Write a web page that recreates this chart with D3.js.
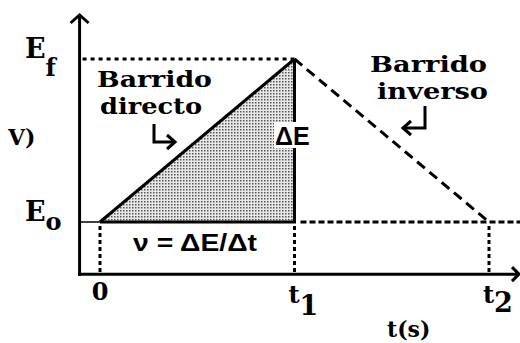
<!DOCTYPE html>
<html>
<head>
<meta charset="utf-8">
<script src="https://cdn.jsdelivr.net/npm/d3@7"></script>
<style>
  body { margin: 0; background: #fff; }
  text { fill: #000; }
  .serif { font-family: "DejaVu Serif", serif; font-weight: bold; }
  .sans { font-family: "Liberation Sans", Arial, sans-serif; font-weight: bold; }
</style>
</head>
<body>
<div id="viz"></div>
<script>
// set up width and height
const width = 520;
const height = 343;

// sweep data: time marks and potential levels
const sweepTimes = [0, 1, 2];
const timeLabels = ["0", "t", "t"];
const timeSubs = ["", "1", "2"];
const levels = [0, 1];
const levelSubs = ["o", "f"];
const forwardSweep = [[0, 0], [1, 1]];
const reverseSweep = [[1, 1], [2, 0]];

const x = d3.scaleLinear().domain([0, 2]).range([100, 489]);
const y = d3.scaleLinear().domain([0, 1]).range([222, 59]);

const xAxisVal = -0.105; // where the vertical axis sits
const yAxisVal = -0.32;  // where the time axis sits

const svg = d3.select("#viz").append("svg")
    .attr("width", width)
    .attr("height", height);

// stipple pattern for the shaded triangle
const defs = svg.append("defs");
const pat = defs.append("pattern")
    .attr("id", "dots")
    .attr("patternUnits", "userSpaceOnUse")
    .attr("width", 3)
    .attr("height", 3);
pat.append("rect").attr("width", 3).attr("height", 3).attr("fill", "#e8e8e8");
pat.append("rect").attr("width", 1.5).attr("height", 1.5).attr("fill", "#555");

const line = d3.line().x(d => x(d[0])).y(d => y(d[1]));

// shaded area under forward sweep
svg.append("path")
    .attr("d", line([[0, 0], [1, 1], [1, 0]]) + "Z")
    .attr("fill", "url(#dots)");

// dotted guide lines
const dotted = svg.append("g").attr("stroke", "#000").attr("stroke-width", 3).attr("fill", "none");
dotted.append("line")
    .attr("x1", x(xAxisVal) + 3).attr("x2", x(1))
    .attr("y1", y(1)).attr("y2", y(1))
    .attr("stroke-dasharray", "4,4");
dotted.append("line")
    .attr("x1", x(1) + 6).attr("x2", width)
    .attr("y1", y(0)).attr("y2", y(0))
    .attr("stroke-dasharray", "6,3");
sweepTimes.forEach(t => {
  dotted.append("line")
    .attr("x1", x(t)).attr("x2", x(t))
    .attr("y1", y(0) + 4).attr("y2", y(yAxisVal) - 2)
    .attr("stroke-dasharray", "4,3");
});

// thin E0 line from axis to start
svg.append("line")
    .attr("x1", x(xAxisVal)).attr("x2", x(0))
    .attr("y1", y(0)).attr("y2", y(0))
    .attr("stroke", "#000").attr("stroke-width", 1.5);

// forward sweep (solid) and triangle edges
svg.append("path")
    .attr("d", line(forwardSweep))
    .attr("stroke", "#000").attr("stroke-width", 3).attr("fill", "none");
svg.append("path")
    .attr("d", line([[0, 0], [1, 0], [1, 1]]))
    .attr("stroke", "#000").attr("stroke-width", 3).attr("fill", "none");

// reverse sweep (dashed)
svg.append("path")
    .attr("d", line(reverseSweep))
    .attr("stroke", "#000").attr("stroke-width", 3).attr("fill", "none")
    .attr("stroke-dasharray", "10,6");

// axes
const axes = svg.append("g").attr("stroke", "#000").attr("stroke-width", 3).attr("fill", "none");
axes.append("line")
    .attr("x1", x(xAxisVal)).attr("x2", x(xAxisVal))
    .attr("y1", 16).attr("y2", y(yAxisVal) + 1.5);
axes.append("path")
    .attr("d", `M${x(xAxisVal) - 9},23 L${x(xAxisVal)},15 L${x(xAxisVal) + 9},23`);
axes.append("line")
    .attr("x1", x(xAxisVal) - 1.5).attr("x2", width - 2)
    .attr("y1", y(yAxisVal)).attr("y2", y(yAxisVal));
axes.append("path")
    .attr("d", `M${width - 8},${y(yAxisVal) - 7} L${width - 1},${y(yAxisVal)} L${width - 8},${y(yAxisVal) + 7}`);

// ΔE label with white backing
svg.append("rect")
    .attr("x", 274).attr("y", 122).attr("width", 42).attr("height", 26)
    .attr("fill", "#fff");
svg.append("text").attr("class", "sans")
    .attr("x", 275).attr("y", 145)
    .style("font-size", "25px")
    .text("ΔE");

// rate formula
svg.append("text").attr("class", "sans")
    .attr("x", 133).attr("y", 251)
    .style("font-size", "24px")
    .attr("textLength", 124).attr("lengthAdjust", "spacingAndGlyphs")
    .text("ν = ΔE/Δt");

// potential labels
levels.forEach((v, i) => {
  const g = svg.append("text").attr("class", "serif")
      .attr("x", 25).attr("y", y(v) - 1)
      .style("font-size", "27px");
  g.append("tspan").text("E");
  g.append("tspan").attr("dy", i === 0 ? 9 : 18).style("font-size", "24px").text(levelSubs[i]);
});

svg.append("text").attr("class", "serif")
    .attr("x", 8).attr("y", 145)
    .style("font-size", "22px")
    .text("V)");

// time tick labels
sweepTimes.forEach((t, i) => {
  const g = svg.append("text").attr("class", "serif")
      .attr("x", timeSubs[i] ? x(t) - 6 : x(t))
      .attr("y", timeSubs[i] ? 303 : 300)
      .attr("text-anchor", timeSubs[i] ? "start" : "middle")
      .style("font-size", "24px");
  g.append("tspan").text(timeLabels[i]);
  if (timeSubs[i]) {
    g.append("tspan").attr("dy", i === 1 ? 12 : 9).style("font-size", "27px").text(timeSubs[i]);
  }
});

svg.append("text").attr("class", "serif")
    .attr("x", 387).attr("y", 337)
    .style("font-size", "22px")
    .text("t(s)");

// sweep labels
const sweepNotes = [
  { lines: ["Barrido", "directo"], x: [97, 100], y: [87, 114], w: [115, 102] },
  { lines: ["Barrido", "inverso"], x: [370, 377], y: [72, 99], w: [117, 111] }
];
sweepNotes.forEach(n => {
  n.lines.forEach((s, i) => {
    svg.append("text").attr("class", "serif")
      .attr("x", n.x[i]).attr("y", n.y[i])
      .style("font-size", "23px")
      .attr("textLength", n.w[i]).attr("lengthAdjust", "spacingAndGlyphs")
      .text(s);
  });
});

// little bent arrows
const arrows = svg.append("g").attr("stroke", "#000").attr("stroke-width", 3).attr("fill", "none");
arrows.append("path").attr("d", "M154,124 L154,142 L174,142");
arrows.append("path").attr("d", "M167,135 L175,142 L167,149");
arrows.append("path").attr("d", "M425,106 L425,128 L404,128");
arrows.append("path").attr("d", "M411,121 L403,128 L411,135");
</script>
</body>
</html>
